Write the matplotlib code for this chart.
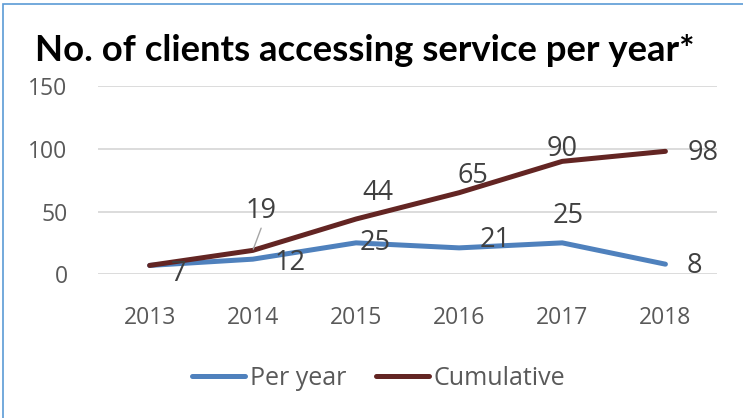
import matplotlib
matplotlib.use("Agg")
import matplotlib.pyplot as plt
from matplotlib.patches import Rectangle

years = ["2013", "2014", "2015", "2016", "2017", "2018"]
per_year = [7, 12, 25, 21, 25, 8]
cumulative = [7, 19, 44, 65, 90, 98]
yticks = [0, 50, 100, 150]

BLUE = "#4F81BD"
RED = "#632523"
GREY = "#595959"
FONT = "Open Sans"

# label offsets in points (dx, dy); None = no label
per_off = [(21, -6), (27, -3), (14, 0), (26, 6), (4, 19), (21, -1)]
cum_off = [None, (6, 28), (16, 19), (10, 12), (0, 9), (27, -1)]

fig = plt.figure(figsize=(7.43, 4.18), dpi=100)
ax = fig.add_axes([0.132, 0.344, 0.833, 0.45])
x = range(len(years))

ax.plot(x, per_year, color=BLUE, lw=3.6, solid_capstyle="round", label="Per year", zorder=3)
ax.plot(x, cumulative, color=RED, lw=3.6, solid_capstyle="round", label="Cumulative", zorder=3)

for i, v in enumerate(per_year):
    dx, dy = per_off[i]
    ax.annotate(str(v), (i, v), xytext=(dx, dy), textcoords="offset points",
                ha="center", va="center", fontsize=19.5, color="#404040", family=FONT)
for i, v in enumerate(cumulative):
    if cum_off[i] is None:
        continue
    dx, dy = cum_off[i]
    ax.annotate(str(v), (i, v), xytext=(dx, dy), textcoords="offset points",
                ha="center", va="center", fontsize=19.5, color="#404040", family=FONT)
# leader line for the 2014 cumulative label
ax.annotate("", (1, cumulative[1]), xytext=(6, 16), textcoords="offset points",
            arrowprops=dict(arrowstyle="-", color="#A6A6A6", lw=1, shrinkA=0, shrinkB=1))

ax.set_xlim(-0.5, 5.5)
ax.set_ylim(0, 150)
ax.set_yticks(yticks)
ax.set_xticks(list(x))
ax.set_xticklabels(years)
ax.grid(axis="y", color="#D9D9D9", lw=1.3)
ax.set_axisbelow(True)
for s in ax.spines.values():
    s.set_visible(False)
ax.tick_params(length=0, labelsize=16.5, labelcolor=GREY)
ax.tick_params(axis="y", pad=22)
ax.tick_params(axis="x", pad=23)
for t in ax.get_xticklabels() + ax.get_yticklabels():
    t.set_family(FONT)

fig.text(0.491, 0.878, "No. of clients accessing service per year*", ha="center", va="center",
         fontsize=26.3, fontweight="bold", family="Lato", color="black")

leg = fig.legend(loc="center", bbox_to_anchor=(0.51, 0.095), ncol=2, frameon=False,
                 prop={"family": FONT, "size": 18}, handlelength=2.1, handletextpad=0.2,
                 columnspacing=1.2)
for t in leg.get_texts():
    t.set_color(GREY)

fig.patches.append(Rectangle((0.004, -0.01), 1.1, 1.0, transform=fig.transFigure,
                             fill=False, edgecolor="#5B9BD5", lw=1.2))

fig.savefig("out.png", dpi=100)
